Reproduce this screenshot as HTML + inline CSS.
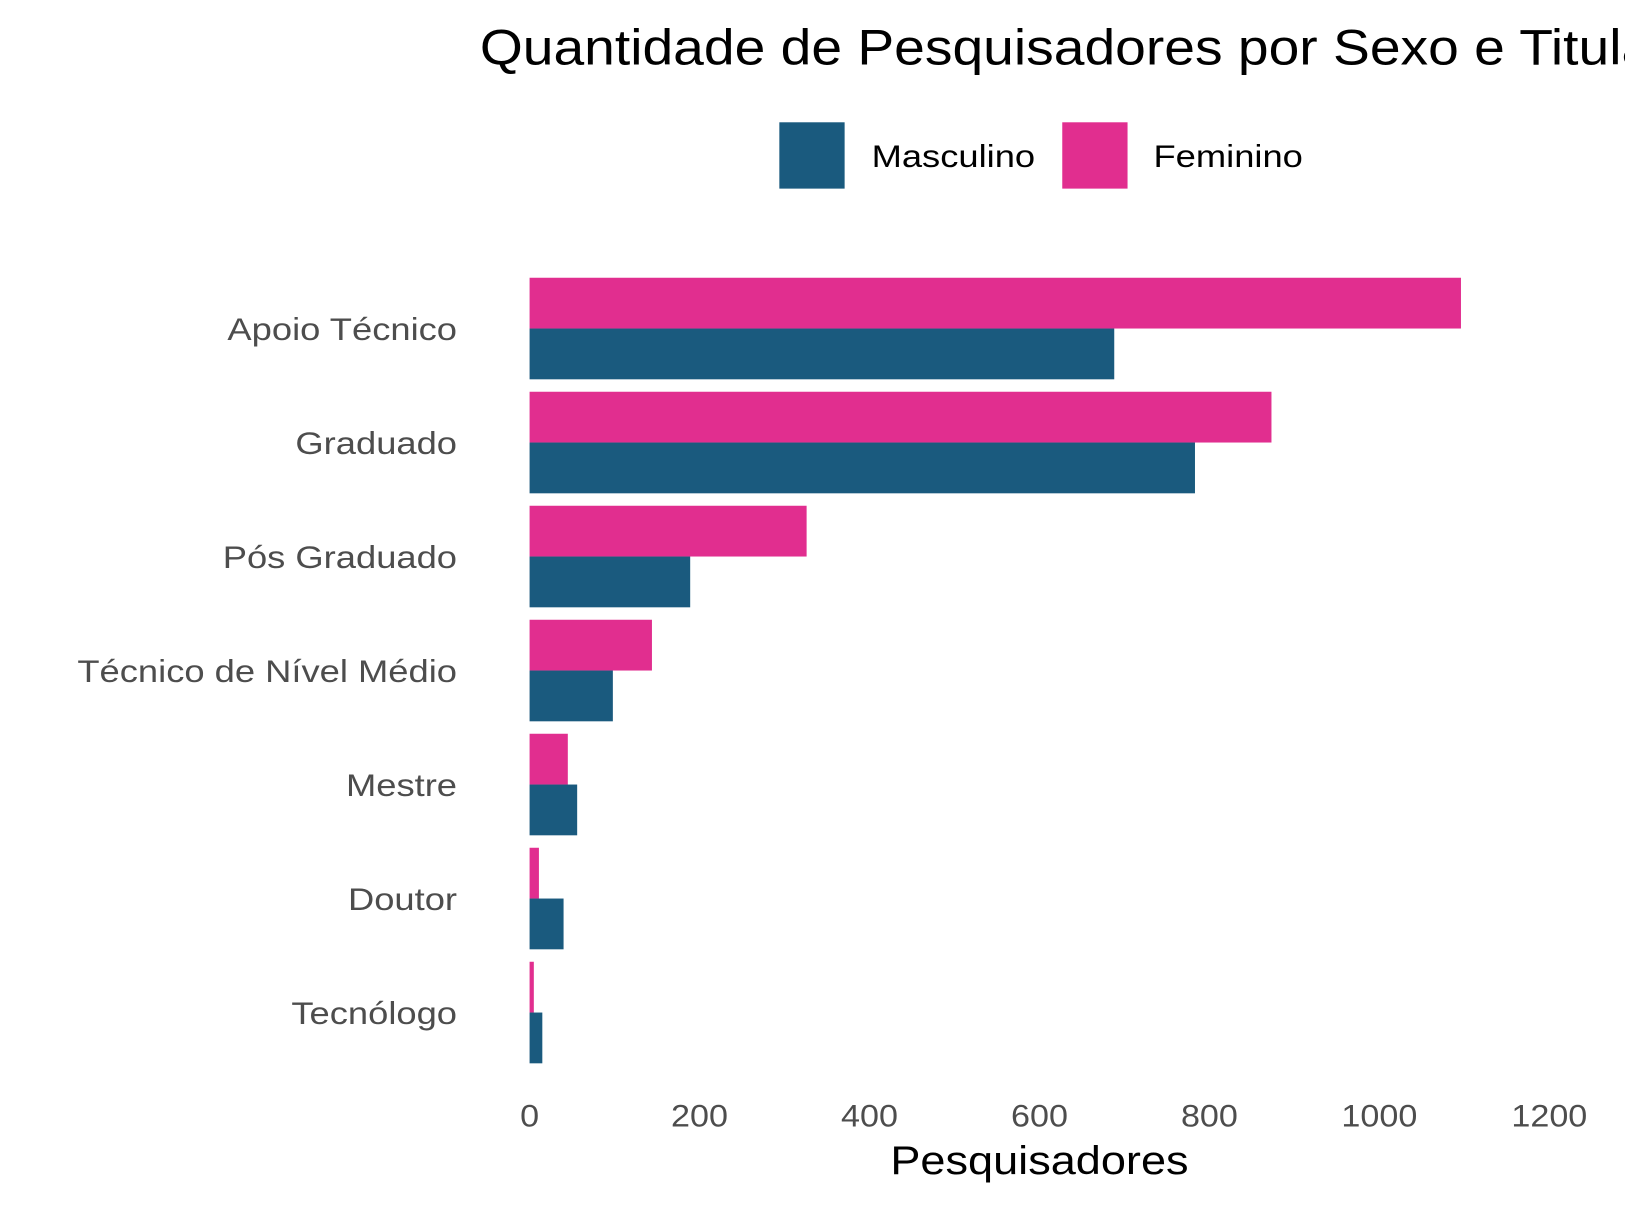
<!DOCTYPE html>
<html><head><meta charset="utf-8"><style>html,body{margin:0;padding:0;background:#fff;overflow:hidden}svg{display:block}</style></head>
<body>
<svg id="chart" width="1625" height="1208" viewBox="0 0 1568 1165.6" preserveAspectRatio="none" font-family="'Liberation Sans', Arial, sans-serif">
<text class="st" data-w="1.11" x="463" y="62" font-size="48" fill="#000">Quantidade de Pesquisadores por Sexo e Titulação</text>
<rect x="752" y="118" width="63" height="64" fill="#1a5a7e"/>
<text class="st" data-w="1.15" x="841" y="161" font-size="30.5" fill="#000">Masculino</text>
<rect x="1025" y="118" width="63" height="64" fill="#e12e8f"/>
<text class="st" data-w="1.15" x="1113" y="161" font-size="30.5" fill="#000">Feminino</text>
<g id="bars"></g>
<text class="st" data-w="1.13" x="1003" y="1133" font-size="38.5" text-anchor="middle" fill="#000">Pesquisadores</text>
</svg>
<script>
const categories = ["Apoio Técnico","Graduado","Pós Graduado","Técnico de Nível Médio","Mestre","Doutor","Tecnólogo"];
const masculino = [688,783,189,98,56,40,15];
const feminino = [1096,873,326,144,45,11,5];
const ticks = [0,200,400,600,800,1000,1200];

const NS="http://www.w3.org/2000/svg";
const g=document.getElementById('bars');
const x0=511, pxPerUnit=(1495-511)/1200;
const xs=v=>x0+v*pxPerUnit;
const rowTop=268, rowStep=110, barH=49;
function el(tag,attrs){const e=document.createElementNS(NS,tag);for(const k in attrs)e.setAttribute(k,attrs[k]);return e;}
categories.forEach((c,i)=>{
  const top=rowTop+i*rowStep;
  const f=el('rect',{x:x0,y:top,width:xs(feminino[i])-x0,height:barH,fill:'#e12e8f'});
  
  
  g.appendChild(f);
  const m=el('rect',{x:x0,y:top+barH,width:xs(masculino[i])-x0,height:barH,fill:'#1a5a7e'});
  
  
  g.appendChild(m);
  const t=el('text',{x:441,y:top+barH+11,'font-size':30.5,'text-anchor':'end',fill:'#4d4d4d',class:'st','data-w':'1.15'});
  t.textContent=c;
  
  
  g.appendChild(t);
});
ticks.forEach(v=>{
  const t=el('text',{x:xs(v),y:1087,'font-size':30.5,'text-anchor':'middle',fill:'#4d4d4d',class:'st','data-w':'1.08'});
  t.textContent=v;
  
  
  g.appendChild(t);
});
document.querySelectorAll('.st').forEach(t=>{
  const w=t.getComputedTextLength()*parseFloat(t.getAttribute('data-w'));
  t.setAttribute('textLength',w);
  t.setAttribute('lengthAdjust','spacingAndGlyphs');
});
</script>
</body></html>
